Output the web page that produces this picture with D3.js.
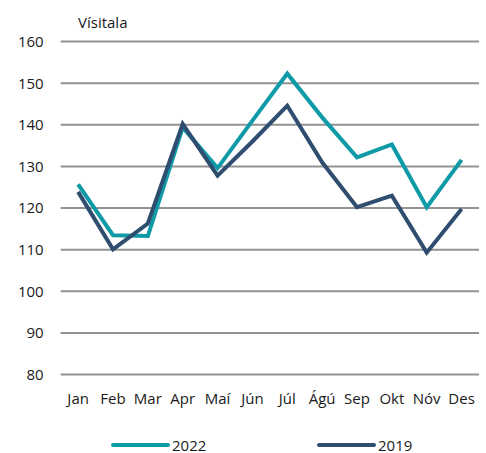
<!DOCTYPE html>
<html>
<head>
<meta charset="utf-8">
<script src="https://cdn.jsdelivr.net/npm/d3@7"></script>
<style>
    body { margin: 0; background: #fff; }
    text { font-family: 'Open Sans', 'Liberation Sans', sans-serif; fill: #1a1a1a; }
</style>
</head>
<body>
<svg width="486" height="453"></svg>
<script>
const months = ['Jan', 'Feb', 'Mar', 'Apr', 'Maí', 'Jún', 'Júl', 'Ágú', 'Sep', 'Okt', 'Nóv', 'Des'];
const values2022 = [125.7, 113.5, 113.3, 139.4, 129.6, 141.0, 152.3, 141.8, 132.2, 135.3, 120.2, 131.6];
const values2019 = [123.9, 110.1, 116.3, 140.2, 127.8, 136.0, 144.6, 131.0, 120.2, 123.0, 109.3, 119.8];
const yTicks = [80, 90, 100, 110, 120, 130, 140, 150, 160];
const seriesNames = ['2022', '2019'];
const colors = ['#0f9aa8', '#2f4e6f'];

const svg = d3.select('svg');

const margin = { top: 41.6, bottom: 78.4, left: 60.7, right: 7 };
const width = +svg.attr('width') - margin.left - margin.right;
const height = +svg.attr('height') - margin.top - margin.bottom;

const chart = svg.append('g')
    .attr('transform', `translate(${margin.left},${margin.top})`);

// Scales
const xScale = d3.scaleBand()
    .domain(months)
    .range([0, width]);

const yScale = d3.scaleLinear()
    .domain([80, 160])
    .range([height, 0]);

// Gridlines
chart.append('g')
    .selectAll('line')
    .data(yTicks)
    .enter()
    .append('line')
    .attr('x1', 0)
    .attr('x2', width)
    .attr('y1', d => yScale(d))
    .attr('y2', d => yScale(d))
    .attr('stroke', '#929292')
    .attr('stroke-width', 2);

// Y axis labels
const yAxis = chart.append('g')
    .call(d3.axisLeft(yScale).tickValues(yTicks).tickSize(0).tickPadding(17));
yAxis.select('.domain').remove();
yAxis.selectAll('text')
    .style('font-size', '15px')
    .style('font-family', "'Open Sans', sans-serif")
    .attr('fill', '#1a1a1a');

// X axis labels
const xAxis = chart.append('g')
    .attr('transform', `translate(0,${height})`)
    .call(d3.axisBottom(xScale).tickSize(0).tickPadding(19));
xAxis.select('.domain').remove();
xAxis.selectAll('text')
    .style('font-size', '15px')
    .style('font-family', "'Open Sans', sans-serif")
    .attr('fill', '#1a1a1a');

// Y title
svg.append('text')
    .attr('x', 78)
    .attr('y', 28)
    .style('font-size', '15px')
    .text('Vísitala');

// Lines
const line = d3.line()
    .x((d, i) => xScale(months[i]) + xScale.bandwidth() / 2)
    .y(d => yScale(d));

[values2022, values2019].forEach(function(vals, k) {
    chart.append('path')
        .datum(vals)
        .attr('fill', 'none')
        .attr('stroke', colors[k])
        .attr('stroke-width', 4)
        .attr('stroke-linejoin', 'miter')
        .attr('d', line);
});

// Legend
const legendX = [113, 319];
seriesNames.forEach(function(name, k) {
    const g = svg.append('g').attr('transform', `translate(${legendX[k]},445)`);
    g.append('line')
        .attr('x1', 0)
        .attr('x2', 55)
        .attr('stroke', colors[k])
        .attr('stroke-width', 4)
        .attr('stroke-linecap', 'round');
    g.append('text')
        .attr('x', 59)
        .attr('y', 5.5)
        .style('font-size', '15px')
        .text(name);
});
</script>
</body>
</html>
